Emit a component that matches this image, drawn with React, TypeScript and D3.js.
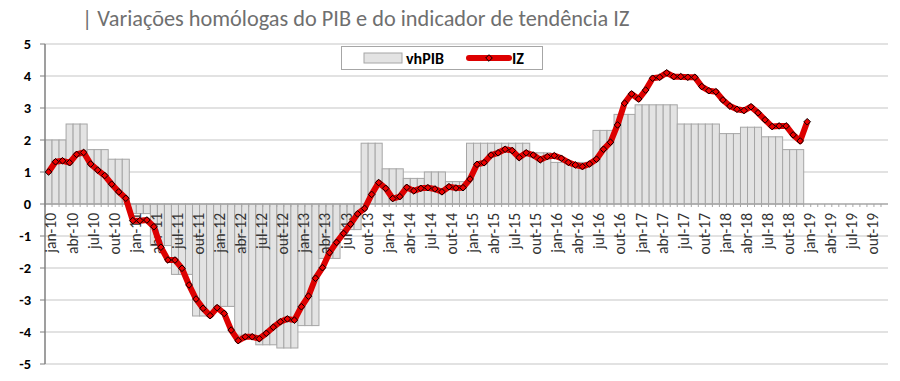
import React from "react";
import * as d3 from "d3";

const monthNames = ["jan", "fev", "mar", "abr", "mai", "jun", "jul", "ago", "set", "out", "nov", "dez"];
const years = [10, 11, 12, 13, 14, 15, 16, 17, 18, 19];
const months: string[] = years.flatMap((y) => monthNames.map((m) => `${m}-${y}`));

// quarterly vhPIB (2010Q1 .. 2018Q4)
const vhPIB = [
  2.0, 2.5, 1.7, 1.4,
  -0.3, -1.3, -2.2, -3.5,
  -3.2, -4.1, -4.4, -4.5,
  -3.8, -1.7, -0.8, 1.9,
  1.1, 0.8, 1.0, 0.7,
  1.9, 1.9, 1.9, 1.6,
  1.3, 1.3, 2.3, 2.8,
  3.1, 3.1, 2.5, 2.5,
  2.2, 2.4, 2.1, 1.7,
];

// monthly IZ (jan-10 .. jan-19)
const IZ = [
  1.0, 1.32, 1.35, 1.29, 1.55, 1.61, 1.25, 1.06, 0.89, 0.62, 0.38, 0.18,
  -0.52, -0.52, -0.5, -0.71, -1.35, -1.75, -1.75, -2.01, -2.53, -2.97, -3.26, -3.49,
  -3.24, -3.42, -3.94, -4.27, -4.15, -4.15, -4.21, -4.04, -3.85, -3.68, -3.59, -3.63,
  -3.21, -2.88, -2.32, -1.99, -1.52, -1.2, -0.92, -0.63, -0.31, -0.14, 0.3, 0.67,
  0.49, 0.17, 0.23, 0.52, 0.41, 0.49, 0.51, 0.47, 0.38, 0.54, 0.5, 0.51,
  0.78, 1.24, 1.29, 1.53, 1.6, 1.71, 1.67, 1.45, 1.6, 1.53, 1.38, 1.48,
  1.51, 1.43, 1.3, 1.22, 1.17, 1.25, 1.4, 1.71, 1.93, 2.47, 3.15, 3.44,
  3.28, 3.56, 3.93, 3.96, 4.1, 3.98, 3.98, 3.96, 3.96, 3.67, 3.54, 3.51,
  3.25, 3.06, 2.96, 2.92, 3.04, 2.85, 2.63, 2.42, 2.44, 2.44, 2.16, 1.97,
  2.57,
];

const yTicks = [5, 4, 3, 2, 1, 0, -1, -2, -3, -4, -5];
const titleText = "| Variações homólogas do PIB e do indicador de tendência IZ";

export default function App() {
  const W = 900, H = 381;
  const left = 45, right = 888, top = 44, bottom = 364;
  const x = d3.scaleBand<string>().domain(months).range([left, right]).padding(0);
  const y = d3.scaleLinear().domain([-5, 5]).range([bottom, top]);
  const bw = x.bandwidth();
  const font = "Calibri, Carlito, 'Open Sans', sans-serif";

  const barData = vhPIB.flatMap((v, q) => [0, 1, 2].map((k) => ({ m: months[q * 3 + k], v })));
  const lineData = IZ.map((v, i) => ({ m: months[i], v }));
  const line = d3
    .line<{ m: string; v: number }>()
    .x((d) => (x(d.m) as number) + bw / 2)
    .y((d) => y(d.v));

  const diamond = (cx: number, cy: number, r: number) =>
    `M${cx},${cy - r}L${cx + r},${cy}L${cx},${cy + r}L${cx - r},${cy}Z`;

  return (
    <svg width={W} height={H} style={{ position: "absolute", left: 0, top: 0, background: "#fff" }}>
      <text x={82} y={26} fill="#6f6f6f" fontSize={22.3} fontFamily={font}>
        {titleText}
      </text>
      {yTicks.map((t) => (
        <g key={t}>
          {t !== 0 && (
            <line x1={left} x2={right} y1={y(t)} y2={y(t)} stroke="#d9d9d9" strokeWidth={1.5} />
          )}
          <line x1={left - 5} x2={left} y1={y(t)} y2={y(t)} stroke="#7f7f7f" strokeWidth={1} />
          <text
            x={31}
            y={y(t)}
            dy="0.35em"
            textAnchor="end"
            fontSize={14.5}
            fontWeight="bold"
            fontFamily={font}
            fill="#000"
          >
            {t}
          </text>
        </g>
      ))}
      {barData.map((d, i) => {
        const y0 = y(0), y1 = y(d.v);
        return (
          <rect
            key={i}
            x={x(d.m) as number}
            y={Math.min(y0, y1)}
            width={bw}
            height={Math.abs(y1 - y0)}
            fill="#e3e3e3"
            stroke="#a6a6a6"
            strokeWidth={1}
          />
        );
      })}
      <line x1={left} x2={right} y1={y(0)} y2={y(0)} stroke="#a6a6a6" strokeWidth={1.5} />
      {months.map((m, i) => (
        <line
          key={m}
          x1={left + i * bw}
          x2={left + i * bw}
          y1={y(0)}
          y2={y(0) + 3}
          stroke="#a6a6a6"
          strokeWidth={1}
        />
      ))}
      <line x1={left} x2={left} y1={top} y2={bottom} stroke="#7f7f7f" strokeWidth={1.5} />
      {months.map((m, i) =>
        i % 3 === 0 ? (
          <text
            key={m}
            transform={`translate(${(x(m) as number) + bw / 2 + 2.5},${y(0) + 9}) rotate(-90)`}
            textAnchor="end"
            dy="0.35em"
            fontSize={15.5}
            fontFamily={font}
            fill="#333"
          >
            {m}
          </text>
        ) : null
      )}
      <path d={line(lineData) as string} fill="none" stroke="#dd0000" strokeWidth={6} strokeLinejoin="round" />
      {lineData.map((d, i) => (
        <path
          key={i}
          d={diamond((x(d.m) as number) + bw / 2, y(d.v), 3.3)}
          fill="#ee0000"
          stroke="#000"
          strokeWidth={1}
        />
      ))}
      <g>
        <rect x={341.5} y={46.5} width={201} height={23} fill="#fff" stroke="#a6a6a6" strokeWidth={1} />
        <rect x={364} y={53} width={38} height={10} fill="#e3e3e3" stroke="#a6a6a6" strokeWidth={1} />
        <text x={406} y={58} dy="0.35em" fontSize={16} fontWeight="bold" fontFamily={font} fill="#000">
          vhPIB
        </text>
        <line x1={469} x2={509} y1={58} y2={58} stroke="#dd0000" strokeWidth={6} strokeLinecap="round" />
        <path d={diamond(489, 58, 3.3)} fill="#ee0000" stroke="#000" strokeWidth={1} />
        <text x={512} y={58} dy="0.35em" fontSize={16} fontWeight="bold" fontFamily={font} fill="#000">
          IZ
        </text>
      </g>
    </svg>
  );
}
